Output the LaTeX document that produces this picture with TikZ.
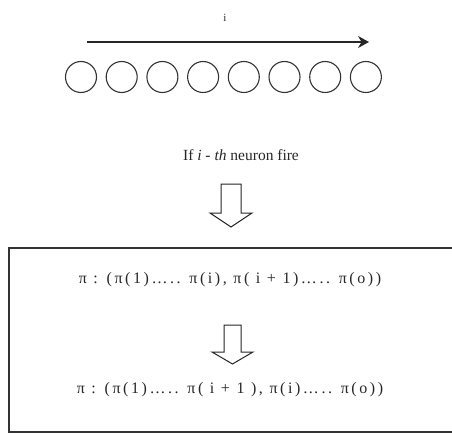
\documentclass[tikz,border=0pt]{standalone}
\usepackage{fontspec}
\setmainfont{Liberation Serif}
\newfontfamily\widefont[LetterSpace=16]{Liberation Serif}
\usetikzlibrary{arrows.meta}
\begin{document}
\begin{tikzpicture}[x=1pt,y=-1pt,
  neuron/.style={draw=black!80, line width=1.1pt, circle, minimum size=31pt, inner sep=0pt},
  txt/.style={inner sep=0pt, text=black!85, font=\fontsize{15.5}{18}\selectfont},
  formula/.style={inner sep=0pt, text=black!85, font=\widefont\fontsize{16}{19}\selectfont},
  hollow/.style={draw=black!85, line width=1pt, fill=white, line join=miter},
  framebox/.style={draw=black!80, line width=1.3pt}]
\useasboundingbox (0,0) rectangle (452,433);
% direction arrow and index label
\node[txt, font=\fontsize{11}{12}\selectfont] (ilabel) at (225,18) {i};
\coordinate (astart) at (87,42);
\coordinate (aend) at (369,42);
\draw[line width=1.4pt, black!85, -{Stealth[length=11pt,width=12pt]}] (astart) -- (aend);
% neurons
\foreach \k in {0,...,7}{
  \node[neuron] (n\k) at ({81+\k*40.7},77) {};
}
\node[txt] (fire) at (241,155) {If \textit{i} - \textit{th} neuron fire};
% first hollow arrow
\draw[hollow] (221,184) -- (241,184) -- (241,213) -- (252,213) -- (231,227) -- (210,213) -- (221,213) -- cycle;
% frame
\draw[framebox] (453,248) -- (9,248) -- (9,432) -- (453,432);
\node[formula] (line1) at (230,280) {π : (π(1)….. π(i), π( i + 1)….. π(o))};
% second hollow arrow
\draw[hollow] (224,325) -- (241,325) -- (241,352) -- (253,352) -- (232.5,364) -- (212,352) -- (224,352) -- cycle;
\node[formula] (line2) at (230,390) {π : (π(1)….. π( i + 1 ), π(i)….. π(o))};
\end{tikzpicture}
\end{document}
